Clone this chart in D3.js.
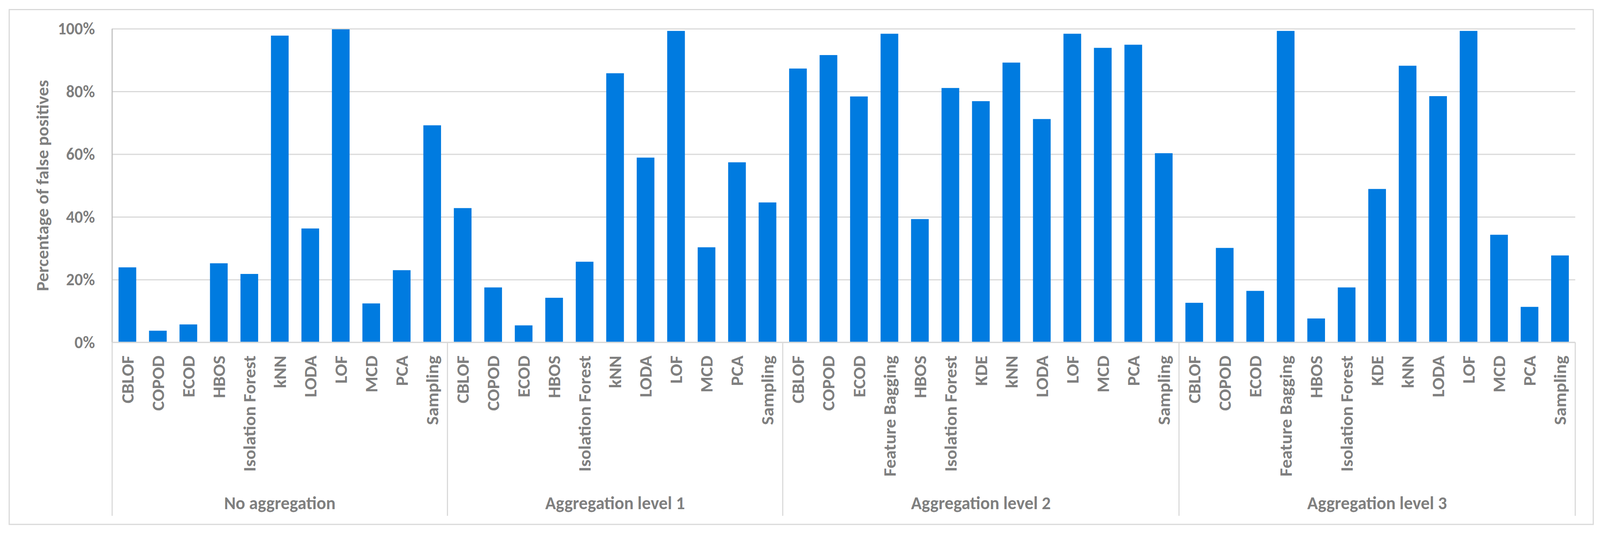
<!DOCTYPE html>
<html>
<head>
<meta charset="utf-8">
<script src="https://cdn.jsdelivr.net/npm/d3@7"></script>
<style>
  html, body { margin: 0; padding: 0; background: #fff; overflow: hidden; }
  #canvas svg { display: block; width: 100vw; height: 100vh; }
  text { font-family: Carlito, Lato, "Open Sans", sans-serif; fill: #7f7f7f; }
</style>
</head>
<body>
<div id="canvas"></div>
<script>
// groups along the category axis
const groups = ["No aggregation", "Aggregation level 1", "Aggregation level 2", "Aggregation level 3"];

const methodsNoAgg = ["CBLOF", "COPOD", "ECOD", "HBOS", "Isolation Forest", "kNN", "LODA", "LOF", "MCD", "PCA", "Sampling"];
const methodsLevel1 = ["CBLOF", "COPOD", "ECOD", "HBOS", "Isolation Forest", "kNN", "LODA", "LOF", "MCD", "PCA", "Sampling"];
const methodsLevel2 = ["CBLOF", "COPOD", "ECOD", "Feature Bagging", "HBOS", "Isolation Forest", "KDE", "kNN", "LODA", "LOF", "MCD", "PCA", "Sampling"];
const methodsLevel3 = ["CBLOF", "COPOD", "ECOD", "Feature Bagging", "HBOS", "Isolation Forest", "KDE", "kNN", "LODA", "LOF", "MCD", "PCA", "Sampling"];

// percentage of false positives (0..1)
const valuesNoAgg = [0.239, 0.037, 0.057, 0.252, 0.218, 0.978, 0.363, 0.998, 0.124, 0.230, 0.692];
const valuesLevel1 = [0.428, 0.175, 0.054, 0.142, 0.257, 0.858, 0.589, 0.993, 0.303, 0.574, 0.446];
const valuesLevel2 = [0.873, 0.916, 0.784, 0.984, 0.393, 0.811, 0.769, 0.892, 0.712, 0.984, 0.939, 0.949, 0.603];
const valuesLevel3 = [0.126, 0.301, 0.164, 0.993, 0.076, 0.175, 0.489, 0.882, 0.785, 0.993, 0.343, 0.113, 0.277];

const yTicks = [0, 0.2, 0.4, 0.6, 0.8, 1];
const yTitle = "Percentage of false positives";

const W = 4266, H = 1364;
const plot = {left: 299, right: 4200, top: 73.5, bottom: 876};

// flatten into one row per bar
const groupMethods = [methodsNoAgg, methodsLevel1, methodsLevel2, methodsLevel3];
const groupValues = [valuesNoAgg, valuesLevel1, valuesLevel2, valuesLevel3];
const rows = [];
groupMethods.forEach((ms, g) => ms.forEach((m, i) => rows.push({group: g, method: m, value: groupValues[g][i], idx: rows.length})));

// fixed coordinate system, stretched over the whole window
const svg = d3.select("#canvas").append("svg")
  .attr("viewBox", `0 0 ${W} ${H}`)
  .attr("preserveAspectRatio", "none");

// outer chart border
svg.append("rect")
  .attr("x", 24.5).attr("y", 24.5)
  .attr("width", 4248 - 24.5).attr("height", 1342 - 24.5)
  .attr("fill", "none").attr("stroke", "#d9d9d9").attr("stroke-width", 3);

const x = d3.scaleBand()
  .domain(rows.map(d => d.idx))
  .range([plot.left, plot.right])
  .paddingInner(0.42)
  .paddingOuter(0.21);

const y = d3.scaleLinear().domain([0, 1]).range([plot.bottom, plot.top]);

// gridlines + tick labels
const yAxis = svg.append("g")
  .attr("transform", `translate(${plot.left},0)`)
  .call(d3.axisLeft(y).tickValues(yTicks).tickFormat(d3.format(".0%"))
    .tickSize(-(plot.right - plot.left)).tickPadding(46));
yAxis.select(".domain").remove();
yAxis.selectAll(".tick line").attr("stroke", "#d9d9d9").attr("stroke-width", 3);
yAxis.selectAll(".tick text")
  .attr("font-size", 44).attr("font-weight", "bold")
  .attr("font-family", null).attr("fill", "#7f7f7f");

// bars
svg.append("g").selectAll("rect").data(rows).join("rect")
  .attr("x", d => x(d.idx))
  .attr("y", d => y(d.value))
  .attr("width", x.bandwidth())
  .attr("height", d => y(0) - y(d.value))
  .attr("fill", "#007be0");

// vertical value axis line
svg.append("line")
  .attr("x1", plot.left).attr("x2", plot.left)
  .attr("y1", plot.top).attr("y2", plot.bottom)
  .attr("stroke", "#bfbfbf").attr("stroke-width", 3);

// category axis line
svg.append("line")
  .attr("x1", plot.left).attr("x2", plot.right)
  .attr("y1", plot.bottom).attr("y2", plot.bottom)
  .attr("stroke", "#d9d9d9").attr("stroke-width", 3);

// method labels
svg.append("g").selectAll("text").data(rows).join("text")
  .attr("transform", d => `translate(${x(d.idx) + x.bandwidth() / 2},910) rotate(-90)`)
  .attr("text-anchor", "end")
  .attr("dy", "0.35em")
  .attr("font-size", 46.5).attr("font-weight", "bold")
  .text(d => d.method);

// group separators and labels
const step = x.step();
let start = 0;
const bounds = [];
groupMethods.forEach(ms => { bounds.push([start, start + ms.length]); start += ms.length; });

const sepX = [plot.left].concat(bounds.map(b => plot.left + b[1] * step));
svg.append("g").selectAll("line").data(sepX).join("line")
  .attr("x1", d => d).attr("x2", d => d)
  .attr("y1", plot.bottom).attr("y2", 1320)
  .attr("stroke", "#d9d9d9").attr("stroke-width", 3);

svg.append("g").selectAll("text").data(groups).join("text")
  .attr("x", (d, i) => plot.left + (bounds[i][0] + bounds[i][1]) / 2 * step)
  .attr("y", 1303)
  .attr("text-anchor", "middle")
  .attr("font-size", 47).attr("font-weight", "bold")
  .text(d => d);

// y axis title
svg.append("text")
  .attr("transform", `translate(113,${(plot.top + plot.bottom) / 2}) rotate(-90)`)
  .attr("text-anchor", "middle")
  .attr("dy", "0.35em")
  .attr("font-size", 46).attr("font-weight", "bold")
  .text(yTitle);
</script>
</body>
</html>
